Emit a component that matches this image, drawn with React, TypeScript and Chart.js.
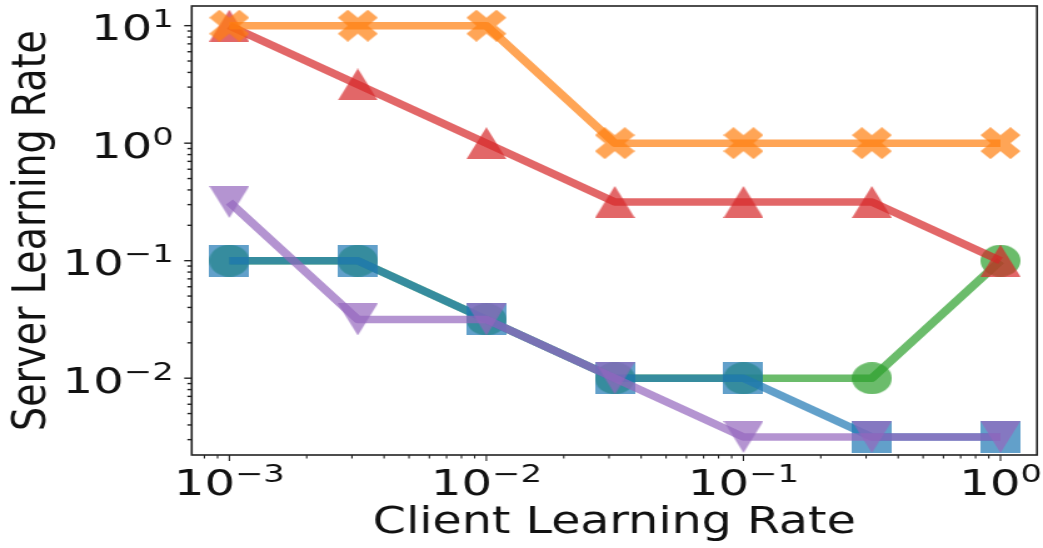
import { useEffect, useRef } from 'react';
import { Chart, registerables } from 'chart.js';

Chart.register(...registerables);

// Client learning rates swept along the x axis (half-decade steps)
const clientLearningRates = [0.001, 0.00316, 0.01, 0.0316, 0.1, 0.316, 1];

// Best server learning rate found for each client learning rate, one list per run
const squareRun = [0.1, 0.1, 0.0316, 0.01, 0.01, 0.00316, 0.00316];
const crossRun = [10, 10, 10, 1, 1, 1, 1];
const circleRun = [0.1, 0.1, 0.0316, 0.01, 0.01, 0.01, 0.1];
const triangleUpRun = [10, 3.16, 1, 0.316, 0.316, 0.316, 0.1];
const triangleDownRun = [0.316, 0.0316, 0.0316, 0.01, 0.00316, 0.00316, 0.00316];

// Decade tick labels: base 10 with a raised exponent
const tickBase = '10';
const xDecades = [0.001, 0.01, 0.1, 1];
const xDecadeExponents = ['−3', '−2', '−1', '0'];
const yDecades = [0.01, 0.1, 1, 10];
const yDecadeExponents = ['−2', '−1', '0', '1'];

// Axis limits
const xLimits = [7.14e-4, 1.387];
const yLimits = [2.22e-3, 14.7];

// Drawing surface is rendered narrower and widened by CSS
const VIEW_W = 1043;
const VIEW_H = 548;
const CANVAS_W = 834;

const MARKER = 32;
const ALPHA = 0.7;
const FONT = '"DejaVu Sans", "Liberation Sans", sans-serif';
const TICK_FONT_SIZE = 35;
const TICK_STRETCH = 1.1;

const rgba = (r: number, g: number, b: number, a: number) => `rgba(${r},${g},${b},${a})`;
const BLUE = [31, 119, 180];
const ORANGE = [255, 127, 14];
const GREEN = [44, 160, 44];
const RED = [214, 39, 40];
const PURPLE = [148, 103, 189];

type Shape = 'square' | 'cross' | 'circle' | 'triUp' | 'triDown';

function makeMarker(shape: Shape, color: string, s: number): HTMLCanvasElement {
  const c = document.createElement('canvas');
  c.width = s;
  c.height = s;
  const g = c.getContext('2d')!;
  g.fillStyle = color;
  g.beginPath();
  if (shape === 'square') {
    g.rect(0, 0, s, s);
  } else if (shape === 'circle') {
    g.arc(s / 2, s / 2, s / 2, 0, Math.PI * 2);
  } else if (shape === 'triUp') {
    g.moveTo(s / 2, 0);
    g.lineTo(s, s);
    g.lineTo(0, s);
  } else if (shape === 'triDown') {
    g.moveTo(0, 0);
    g.lineTo(s, 0);
    g.lineTo(s / 2, s);
  } else {
    const pts = [
      [-1, -2], [0, -1], [1, -2], [2, -1], [1, 0], [2, 1],
      [1, 2], [0, 1], [-1, 2], [-2, 1], [-1, 0], [-2, -1],
    ];
    pts.forEach(([px, py], i) => {
      const x = s / 2 + (px / 4) * s;
      const y = s / 2 + (py / 4) * s;
      if (i === 0) g.moveTo(x, y);
      else g.lineTo(x, y);
    });
  }
  g.closePath();
  g.fill();
  return c;
}

const sameValue = (a: number, b: number) => Math.abs(Math.log10(a) - Math.log10(b)) < 1e-6;

function logTicks(min: number, max: number) {
  const out: { value: number }[] = [];
  for (let e = Math.floor(Math.log10(min)); e <= Math.ceil(Math.log10(max)); e++) {
    for (let m = 1; m <= 9; m++) {
      const v = m * Math.pow(10, e);
      if (v >= min && v <= max) out.push({ value: v });
    }
  }
  return out;
}

// "10" followed by a smaller, raised exponent
function drawPowerLabel(
  ctx: CanvasRenderingContext2D,
  exponent: string,
  x: number,
  baseline: number,
  align: 'center' | 'right'
) {
  const big = TICK_FONT_SIZE;
  const small = TICK_FONT_SIZE * 0.7;
  ctx.save();
  ctx.translate(x, baseline);
  ctx.scale(TICK_STRETCH, 1);
  ctx.fillStyle = '#111';
  ctx.textAlign = 'left';
  ctx.textBaseline = 'alphabetic';
  ctx.font = `${big}px ${FONT}`;
  const wb = ctx.measureText(tickBase).width;
  ctx.font = `${small}px ${FONT}`;
  const we = ctx.measureText(exponent).width;
  const total = wb + we;
  const x0 = align === 'center' ? -total / 2 : -total;
  ctx.font = `${big}px ${FONT}`;
  ctx.fillText(tickBase, x0, 0);
  ctx.font = `${small}px ${FONT}`;
  ctx.fillText(exponent, x0 + wb, -TICK_FONT_SIZE * 0.37);
  ctx.restore();
}

const axesFrame = {
  id: 'axesFrame',
  afterDatasetsDraw(chart: any) {
    const { ctx, chartArea: a, scales } = chart;
    ctx.save();
    ctx.strokeStyle = '#222';
    ctx.lineWidth = 1.1;
    for (const t of scales.x.ticks) {
      const px = scales.x.getPixelForValue(t.value);
      const len = xDecades.some((d) => sameValue(d, t.value)) ? 6 : 3.5;
      ctx.beginPath();
      ctx.moveTo(px, a.bottom);
      ctx.lineTo(px, a.bottom + len);
      ctx.stroke();
    }
    ctx.lineWidth = 1.4;
    for (const t of scales.y.ticks) {
      const py = scales.y.getPixelForValue(t.value);
      const len = yDecades.some((d) => sameValue(d, t.value)) ? 6 : 3.5;
      ctx.beginPath();
      ctx.moveTo(a.left, py);
      ctx.lineTo(a.left - len, py);
      ctx.stroke();
    }
    ctx.lineWidth = 1.6;
    ctx.strokeRect(a.left, a.top, a.right - a.left, a.bottom - a.top);

    xDecades.forEach((d, i) => {
      drawPowerLabel(ctx, xDecadeExponents[i], scales.x.getPixelForValue(d), a.bottom + 40, 'center');
    });
    yDecades.forEach((d, i) => {
      drawPowerLabel(ctx, yDecadeExponents[i], a.left - 14.5, scales.y.getPixelForValue(d) + 14.5, 'right');
    });
    ctx.restore();
  },
};

export default function App() {
  const canvasRef = useRef<HTMLCanvasElement | null>(null);

  useEffect(() => {
    const canvas = canvasRef.current;
    if (!canvas) return;

    const series = (
      label: string,
      values: number[],
      rgb: number[],
      shape: Shape,
      order: number
    ) => ({
      label,
      data: clientLearningRates.map((x, i) => ({ x, y: values[i] })),
      borderColor: rgba(rgb[0], rgb[1], rgb[2], ALPHA),
      backgroundColor: rgba(rgb[0], rgb[1], rgb[2], ALPHA),
      borderWidth: 7.5,
      borderJoinStyle: 'round' as const,
      pointStyle: makeMarker(shape, rgba(rgb[0], rgb[1], rgb[2], ALPHA), MARKER),
      pointRadius: MARKER / 2,
      pointHoverRadius: MARKER / 2,
      pointBorderWidth: 0,
      tension: 0,
      order,
    });

    const chart = new Chart(canvas, {
      type: 'line',
      data: {
        datasets: [
          series('square', squareRun, BLUE, 'square', 2),
          series('cross', crossRun, ORANGE, 'cross', 3),
          series('circle', circleRun, GREEN, 'circle', 5),
          series('triangle up', triangleUpRun, RED, 'triUp', 4),
          series('triangle down', triangleDownRun, PURPLE, 'triDown', 1),
        ],
      },
      options: {
        responsive: false,
        animation: false,
        devicePixelRatio: 1,
        events: [],
        layout: { autoPadding: false, padding: { top: 6, right: 4.8, left: 0, bottom: 0 } },
        plugins: {
          legend: { display: false },
          tooltip: { enabled: false },
        },
        scales: {
          x: {
            type: 'logarithmic',
            min: xLimits[0],
            max: xLimits[1],
            border: { display: false },
            grid: { display: false, drawTicks: false },
            afterBuildTicks: (scale: any) => {
              scale.ticks = logTicks(xLimits[0], xLimits[1]);
            },
            afterFit: (scale: any) => {
              scale.height = 93;
              scale.paddingLeft = 0;
              scale.paddingRight = 0;
            },
            ticks: { display: false, autoSkip: false },
            title: {
              display: true,
              text: 'Client Learning Rate',
              color: '#111',
              font: { family: FONT, size: 38 },
              padding: { top: 0, bottom: 1.6 },
            },
          },
          y: {
            type: 'logarithmic',
            min: yLimits[0],
            max: yLimits[1],
            border: { display: false },
            grid: { display: false, drawTicks: false },
            afterBuildTicks: (scale: any) => {
              scale.ticks = logTicks(yLimits[0], yLimits[1]);
            },
            afterFit: (scale: any) => {
              scale.width = 153.3;
              scale.paddingTop = 0;
              scale.paddingBottom = 0;
            },
            ticks: { display: false, autoSkip: false },
            title: {
              display: true,
              text: 'Server Learning Rate',
              color: '#111',
              font: { family: FONT, size: 38 },
              padding: { top: 3, bottom: 0 },
            },
          },
        },
      },
      plugins: [axesFrame],
    });

    return () => chart.destroy();
  }, []);

  return (
    <div style={{ position: 'fixed', left: 0, top: 0, width: VIEW_W, height: VIEW_H, background: '#fff' }}>
      <canvas
        ref={canvasRef}
        width={CANVAS_W}
        height={VIEW_H}
        style={{ width: `${VIEW_W}px`, height: `${VIEW_H}px`, display: 'block' }}
      />
    </div>
  );
}
